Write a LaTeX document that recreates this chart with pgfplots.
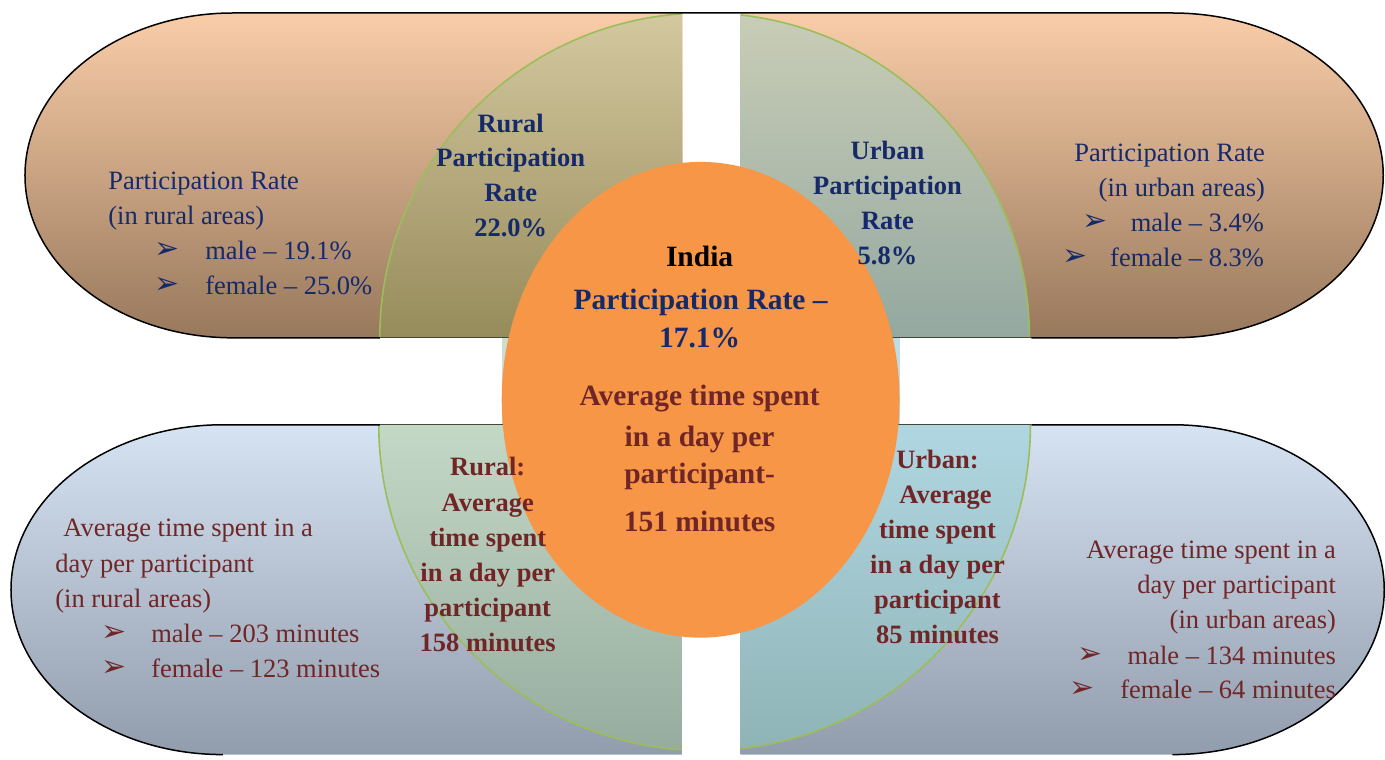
\documentclass[border=0pt]{standalone}
\usepackage{pgfplots}
\pgfplotsset{compat=1.18}
\usepackage{fontspec}
\setmainfont{Liberation Serif}
\newfontfamily\dejavu{DejaVu Sans}
\definecolor{navy}{RGB}{22,42,106}
\definecolor{maroon}{RGB}{112,38,38}
\definecolor{peachtop}{RGB}{249,205,168}
\definecolor{peachbot}{RGB}{152,120,92}
\definecolor{bluetop}{RGB}{214,227,243}
\definecolor{bluebot}{RGB}{145,156,172}
\definecolor{tlTop}{RGB}{212,200,160}
\definecolor{tlBot}{RGB}{150,139,90}
\definecolor{trTop}{RGB}{201,205,182}
\definecolor{trBot}{RGB}{148,168,160}
\definecolor{blTop}{RGB}{196,216,198}
\definecolor{blBot}{RGB}{150,172,158}
\definecolor{brTop}{RGB}{176,214,226}
\definecolor{brBot}{RGB}{143,180,182}
\definecolor{orng}{RGB}{247,150,70}
\definecolor{arcgreen}{RGB}{155,190,90}
\definecolor{edge}{RGB}{70,72,55}
\tikzset{
 reg/.style={inner sep=0pt, text height=8.7pt, text depth=0pt, font=\fontsize{13.25}{16}\selectfont},
 bld/.style={inner sep=0pt, text height=8.7pt, text depth=0pt, font=\fontsize{13.25}{16}\selectfont\bfseries},
 big/.style={inner sep=0pt, text height=9.7pt, text depth=0pt, font=\fontsize{14.75}{18}\selectfont\bfseries},
 bul/.style={inner sep=0pt, font=\fontsize{15}{16}\selectfont\dejavu},
}
\begin{document}
\begin{tikzpicture}
\begin{axis}[width=692.5pt,height=377.5pt,scale only axis,
  xmin=0,xmax=1385,ymin=0,ymax=755,y dir=reverse,hide axis,clip=false]
\path (0,0) rectangle (1385,755);
% ---- bands
\shade[top color=peachtop,bottom color=peachbot] (683,13) -- (233,13) arc[start angle=90,end angle=270,x radius=104pt,y radius=81.25pt] -- (683,338) -- cycle;
\shade[top color=peachtop,bottom color=peachbot] (741,13) -- (1173,13) arc[start angle=90,end angle=-90,x radius=105.5pt,y radius=81.25pt] -- (741,338) -- cycle;
\shade[top color=bluetop,bottom color=bluebot] (683,425) -- (223,425) arc[start angle=90,end angle=270,x radius=106pt,y radius=82.5pt] -- (683,755) -- cycle;
\shade[top color=bluetop,bottom color=bluebot] (741,425) -- (1173,425) arc[start angle=90,end angle=-90,x radius=106pt,y radius=82.5pt] -- (741,755) -- cycle;
% ---- middle strip behind ellipse
\fill[blTop!85!white] (502,338) rectangle (701,425);
\fill[brTop!85!white] (701,338) rectangle (900,425);
% ---- half discs
\begin{scope}
\clip (370,0) rectangle (682,340);
\shade[top color=tlTop,bottom color=tlBot] (705,338) -- (380,338) arc[start angle=180,end angle=90,radius=162.5pt] -- cycle;
\draw[arcgreen,line width=0.8pt] (380,338) arc[start angle=180,end angle=90,radius=162.5pt];
\end{scope}
\begin{scope}
\clip (741,0) rectangle (1040,340);
\shade[top color=trTop,bottom color=trBot] (705,338) -- (705,13) arc[start angle=90,end angle=0,radius=162.5pt] -- cycle;
\draw[arcgreen,line width=0.8pt] (705,13) arc[start angle=90,end angle=0,radius=162.5pt];
\end{scope}
\begin{scope}
\clip (370,423) rectangle (682,760);
\shade[top color=blTop,bottom color=blBot] (705,425) -- (379,425) arc[start angle=180,end angle=270,radius=163pt] -- cycle;
\draw[arcgreen,line width=0.8pt] (379,425) arc[start angle=180,end angle=270,radius=163pt];
\end{scope}
\begin{scope}
\clip (741,423) rectangle (1040,760);
\shade[top color=brTop,bottom color=brBot] (705,425) -- (705,751) arc[start angle=270,end angle=360,radius=163pt] -- cycle;
\draw[arcgreen,line width=0.8pt] (705,751) arc[start angle=270,end angle=360,radius=163pt];
\end{scope}
% ---- outlines
\draw[black,line width=0.75pt] (380,338) -- (233,338) arc[start angle=270,end angle=90,x radius=104pt,y radius=81.25pt] -- (1173,13) arc[start angle=90,end angle=-90,x radius=105.5pt,y radius=81.25pt] -- (1032,338);
\draw[edge,line width=0.5pt] (380,338) -- (683,338) (741,338) -- (1032,338);
\draw[black,line width=0.75pt] (380,425) -- (223,425) arc[start angle=90,end angle=270,x radius=106pt,y radius=82.5pt];
\draw[black,line width=0.75pt] (1032,425) -- (1173,425) arc[start angle=90,end angle=-90,x radius=106pt,y radius=82.5pt];
\draw[edge,line width=0.5pt] (380,425) -- (683,425) (741,425) -- (1032,425);
% ---- central ellipse
\fill[orng] (701,400) ellipse [x radius=99.5pt,y radius=119pt];
% ---- top-left text
\node[reg,navy,anchor=west] at (108,181) {Participation Rate};
\node[reg,navy,anchor=west] at (108,216) {(in rural areas)};
\node[bul,navy] at (167,251) {➢};
\node[reg,navy,anchor=west] at (205,251) {male – 19.1\%};
\node[bul,navy] at (167,286) {➢};
\node[reg,navy,anchor=west] at (205,286) {female – 25.0\%};
% ---- rural participation
\node[bld,navy] at (511,124) {Rural};
\node[bld,navy] at (511,158) {Participation};
\node[bld,navy] at (511,193) {Rate};
\node[bld,navy] at (511,228) {22.0\%};
% ---- urban participation
\node[bld,navy] at (888,151) {Urban};
\node[bld,navy] at (888,186) {Participation};
\node[bld,navy] at (888,221) {Rate};
\node[bld,navy] at (888,256) {5.8\%};
% ---- top-right text
\node[reg,navy,anchor=east] at (1266,153) {Participation Rate};
\node[reg,navy,anchor=east] at (1266,188) {(in urban areas)};
\node[bul,navy] at (1096,223) {➢};
\node[reg,navy,anchor=east] at (1265,223) {male – 3.4\%};
\node[bul,navy] at (1076,258) {➢};
\node[reg,navy,anchor=east] at (1265,258) {female – 8.3\%};
% ---- centre
\node[big,black] at (700,257) {India};
\node[big,navy] at (701,300) {Participation Rate –};
\node[big,navy] at (700,338) {17.1\%};
\node[big,maroon] at (700,396) {Average time spent};
\node[big,maroon] at (700,437) {in a day per};
\node[big,maroon] at (700,474) {participant-};
\node[big,maroon] at (700,522) {151 minutes};
% ---- bottom-left text
\node[reg,maroon,anchor=west] at (63,528) {Average time spent in a};
\node[reg,maroon,anchor=west] at (55,564) {day per participant};
\node[reg,maroon,anchor=west] at (55,599) {(in rural areas)};
\node[bul,maroon] at (114,634) {➢};
\node[reg,maroon,anchor=west] at (151,634) {male – 203 minutes};
\node[bul,maroon] at (114,669) {➢};
\node[reg,maroon,anchor=west] at (151,669) {female – 123 minutes};
% ---- rural time
\node[bld,maroon] at (488,467) {Rural:};
\node[bld,maroon] at (488,503) {Average};
\node[bld,maroon] at (488,538) {time spent};
\node[bld,maroon] at (488,573) {in a day per};
\node[bld,maroon] at (488,608) {participant};
\node[bld,maroon] at (488,643) {158 minutes};
% ---- urban time
\node[bld,maroon] at (938,460) {Urban:};
\node[bld,maroon] at (946,495) {Average};
\node[bld,maroon] at (938,530) {time spent};
\node[bld,maroon] at (938,565) {in a day per};
\node[bld,maroon] at (938,600) {participant};
\node[bld,maroon] at (938,635) {85 minutes};
% ---- bottom-right text
\node[reg,maroon,anchor=east] at (1337,550) {Average time spent in a};
\node[reg,maroon,anchor=east] at (1337,585) {day per participant};
\node[reg,maroon,anchor=east] at (1337,620) {(in urban areas)};
\node[bul,maroon] at (1091,656) {➢};
\node[reg,maroon,anchor=east] at (1337,656) {male – 134 minutes};
\node[bul,maroon] at (1083,690) {➢};
\node[reg,maroon,anchor=east] at (1337,690) {female – 64 minutes};
\end{axis}
\end{tikzpicture}
\end{document}
